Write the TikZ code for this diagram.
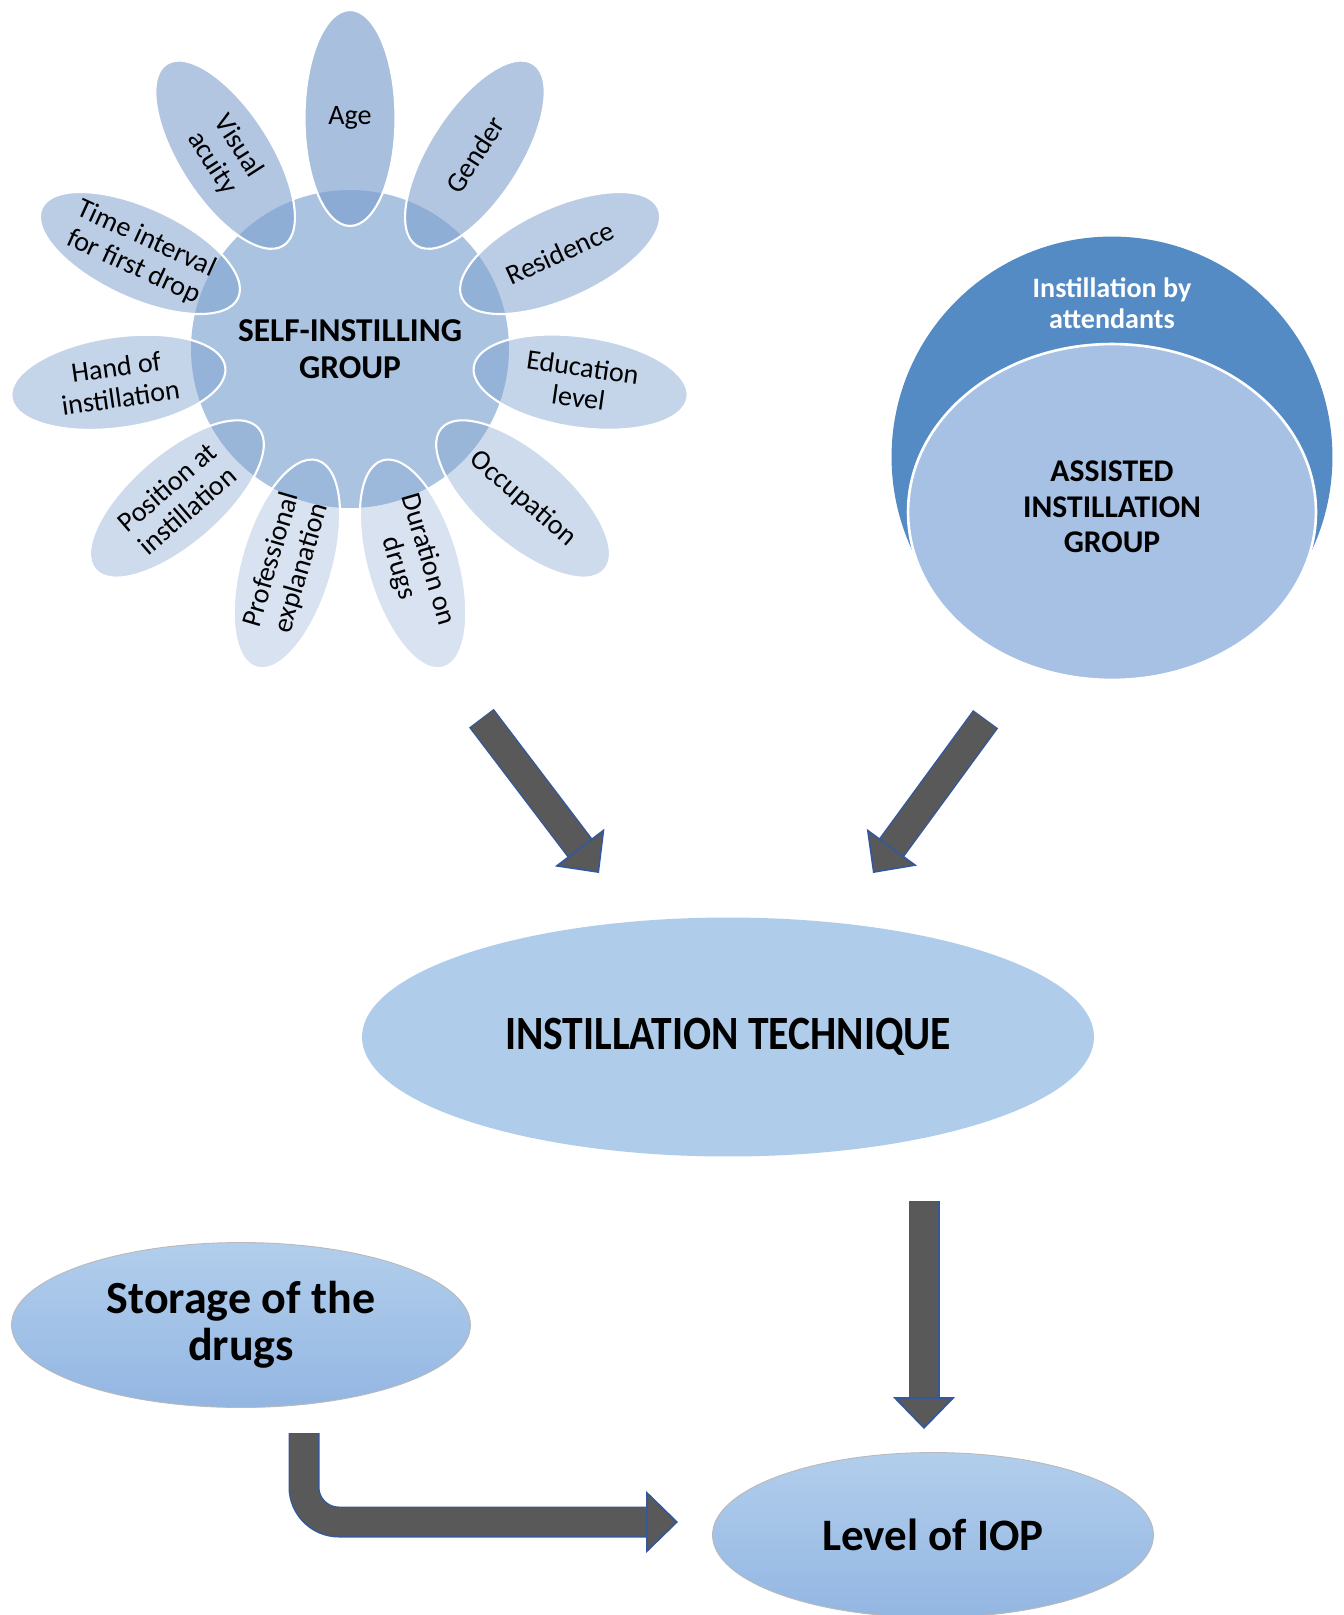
\documentclass[tikz,border=0pt]{standalone}
\usepackage{fontspec}
\setmainfont{Carlito}
\newfontfamily\narrowfont[FakeStretch=0.87]{Carlito}
\usetikzlibrary{
    shapes.geometric,
    arrows.meta,
    calc
}
\definecolor{hubblue}{HTML}{A9C3E0}
\definecolor{petalblue}{HTML}{7FA1CF}
\definecolor{attendblue}{HTML}{548BC4}
\definecolor{assistblue}{HTML}{A6C1E3}
\definecolor{techblue}{HTML}{AFCDEA}
\definecolor{gradtop}{HTML}{B2CEEC}
\definecolor{gradbottom}{HTML}{93B6E2}
\definecolor{arrowgray}{HTML}{595959}
\definecolor{arrowedge}{HTML}{34589A}
\tikzset{
    % Centre of the flower
    hubnode/.style={
        circle,
        minimum size=6.36cm,
        fill=hubblue,
        align=center,
        font=\bfseries\fontsize{19}{21}\selectfont
    },
    % Flower petals, #1 = opacity
    petal/.style={
        ellipse,
        minimum width=4.32cm,
        minimum height=1.82cm,
        inner sep=0pt,
        fill=petalblue,
        fill opacity=#1,
        text opacity=1,
        draw=white,
        line width=1.2pt,
        align=center,
        font=\fontsize{16}{17.6}\selectfont
    },
    petal upright/.style={
        petal=#1,
        minimum width=1.82cm,
        minimum height=4.32cm
    },
    % Plain ellipse
    blob/.style={
        ellipse,
        inner sep=0pt,
        fill=#1,
        align=center
    },
    % Ellipse with shading
    gradblob/.style={
        ellipse,
        inner sep=0pt,
        top color=gradtop,
        bottom color=gradbottom,
        draw=gray!55,
        line width=0.5pt,
        align=center,
        font=\bfseries\fontsize{26.2}{26.8}\selectfont
    },
    % Thick block arrows
    fatarrow/.style={
        draw=arrowgray,
        line width=0.56cm,
        -{Triangle[length=0.64cm, width=1.24cm, line width=1pt, color=arrowedge, fill=arrowgray]},
        preaction={draw=arrowedge, line width=0.62cm, -, shorten >=0.45cm, shorten <=-0.02cm}
    }
}
\begin{document}
\begin{tikzpicture}[x=0.02cm, y=0.02cm]

    \path[use as bounding box, fill=white] (0,0) rectangle (1344,-1615);

    % Self-instilling group
    \node[hubnode] (hub) at (350,-349) {SELF-INSTILLING\\GROUP};

    \node[petal upright=0.68] (age) at ($(hub)+(90:231)$) {Age};
    \node[petal=0.60, rotate=57.27] (gender) at ($(hub)+(57.27:231)$) {Gender};
    \node[petal=0.53, rotate=24.55] (residence) at ($(hub)+(24.55:231)$) {Residence};
    \node[petal=0.455, rotate=-8.18] (education) at ($(hub)+(-8.18:233)$) {Education\\level};
    \node[petal=0.38, rotate=-40.91] (occupation) at ($(hub)+(-40.91:229)$) {Occupation};
    \node[petal=0.30, rotate=-73.64] (duration) at ($(hub)+(-73.64:224)$) {Duration on\\drugs};
    \node[petal=0.30, rotate=73.64] (explain) at ($(hub)+(-106.36:224)$) {Professional\\explanation};
    \node[petal=0.38, rotate=40.91] (position) at ($(hub)+(-139.09:229)$) {Position at\\instillation};
    \node[petal=0.455, rotate=8.18] (hand) at ($(hub)+(-171.82:234)$) {Hand of\\instillation};
    \node[petal=0.53, rotate=-24.55] (interval) at ($(hub)+(155.45:231)$) {Time interval\\for first drop};
    \node[petal=0.60, rotate=-57.27] (acuity) at ($(hub)+(122.73:231)$) {Visual\\acuity};

    % Assisted instillation group
    \node[circle, minimum size=8.82cm, fill=attendblue] (attend) at (1112,-457) {};
    \node[blob=assistblue, minimum width=8.16cm, minimum height=6.72cm, draw=white, line width=1.5pt] (assisted) at (1112,-512) {};
    \node[align=center, font=\bfseries\fontsize{18}{20.2}\selectfont] (assistedtxt) at (1112,-507) {ASSISTED\\INSTILLATION\\GROUP};
    \node[text=white, align=center, font=\bfseries\fontsize{16}{17.6}\selectfont] (attendtxt) at (1112,-303) {Instillation by\\attendants};

    % Technique, storage and IOP
    \node[blob=techblue, minimum width=14.64cm, minimum height=4.78cm,
          font=\narrowfont\bfseries\fontsize{27.2}{30}\selectfont] (tech) at (728,-1037) {INSTILLATION TECHNIQUE};
    \node[gradblob, minimum width=9.18cm, minimum height=3.3cm] (storage) at (241,-1325) {Storage of the\\drugs};
    \node[gradblob, minimum width=8.82cm, minimum height=3.3cm, font=\bfseries\fontsize{25.6}{26.4}\selectfont] (iop) at (933,-1535) {Level of IOP};

    % Arrow ends
    \coordinate (selfout) at (482,-719);
    \coordinate (selfin) at (599,-873);
    \coordinate (assistout) at (985,-720);
    \coordinate (assistin) at (873,-873);
    \coordinate (techout) at (924,-1202);
    \coordinate (iopin) at (924,-1429);
    \coordinate (storeout) at (304,-1434);
    \coordinate (iopside) at (678,-1522);

    \draw[fatarrow] (selfout) -- (selfin);
    \draw[fatarrow] (assistout) -- (assistin);
    \draw[fatarrow] (techout) -- (iopin);
    \draw[fatarrow, rounded corners=0.7cm] (storeout) |- (iopside);

\end{tikzpicture}
\end{document}
